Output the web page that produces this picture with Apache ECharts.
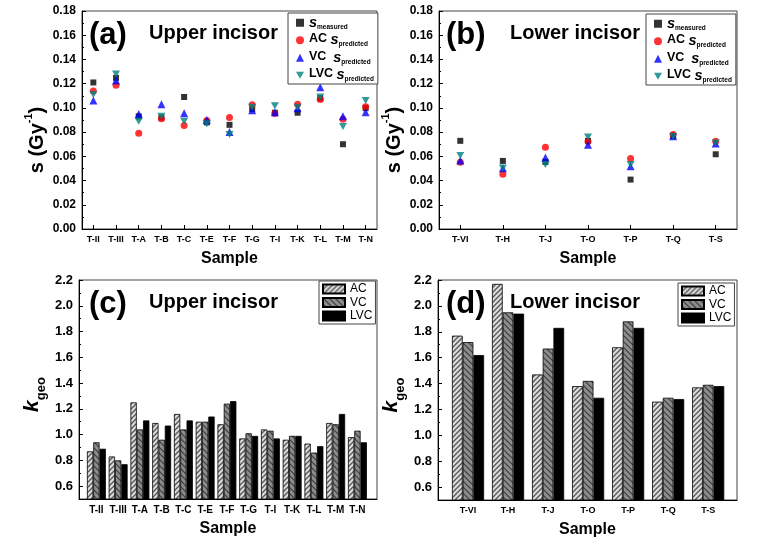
<!DOCTYPE html>
<html><head><meta charset="utf-8">
<script src="https://cdn.jsdelivr.net/npm/echarts@6/dist/echarts.min.js"></script>
<style>html,body{margin:0;padding:0;background:#fff}#c{width:768px;height:552px}</style>
</head><body><div id="c"></div>
<script>
// ---------- data ----------
const upperSamples = ['T-II','T-III','T-A','T-B','T-C','T-E','T-F','T-G','T-I','T-K','T-L','T-M','T-N'];
const lowerSamples = ['T-VI','T-H','T-J','T-O','T-P','T-Q','T-S'];

const upperMeasured = [0.121,0.1248,0.093,0.092,0.109,0.088,0.086,0.099,0.096,0.096,0.108,0.070,0.0998];
const upperAC       = [0.114,0.1187,0.079,0.091,0.0855,0.0896,0.092,0.1025,0.0954,0.103,0.107,0.0907,0.101];
const upperVC       = [0.106,0.1226,0.095,0.103,0.0956,0.090,0.080,0.098,0.0965,0.0998,0.117,0.093,0.0965];
const upperLVC      = [0.111,0.128,0.089,0.093,0.089,0.087,0.078,0.1006,0.1017,0.1006,0.109,0.0846,0.106];

const lowerMeasured = [0.0728,0.0562,0.0554,0.0728,0.0408,0.077,0.0617];
const lowerAC       = [0.0552,0.0452,0.0675,0.0722,0.0582,0.078,0.0725];
const lowerVC       = [0.0565,0.0502,0.059,0.0695,0.0518,0.0766,0.0706];
const lowerLVC      = [0.0606,0.0504,0.0532,0.076,0.0532,0.0764,0.0711];

const upperKAC  = [0.87,0.83,1.25,1.09,1.16,1.10,1.08,0.97,1.04,0.96,0.93,1.09,0.98];
const upperKVC  = [0.94,0.80,1.04,0.96,1.04,1.10,1.24,1.01,1.03,0.99,0.86,1.08,1.03];
const upperKLVC = [0.89,0.77,1.11,1.07,1.11,1.14,1.26,0.99,0.97,0.99,0.91,1.16,0.94];

const lowerKAC  = [1.77,2.17,1.47,1.38,1.68,1.26,1.37];
const lowerKVC  = [1.72,1.95,1.67,1.42,1.88,1.29,1.39];
const lowerKLVC = [1.62,1.94,1.83,1.29,1.83,1.28,1.38];

const kTickLabels = [0.6,0.8,1.0,1.2,1.4,1.6,1.8,2.0,2.2];
const kMinorTicks = [0.7,0.9,1.1,1.3,1.5,1.7,1.9,2.1];

// ---------- styling helpers ----------
const FONT = 'Liberation Sans, Arial, Helvetica, sans-serif';
const DOWN_TRIANGLE = 'path://M0,0 L10,0 L5,9 Z';

function hatch(bg, line, dir, size, lw) {
  const c = document.createElement('canvas');
  c.width = size; c.height = size;
  const ctx = c.getContext('2d');
  ctx.fillStyle = bg; ctx.fillRect(0, 0, size, size);
  ctx.strokeStyle = line; ctx.lineWidth = lw;
  ctx.beginPath();
  if (dir > 0) { // "/"
    ctx.moveTo(-1, size + 1); ctx.lineTo(size + 1, -1);
    ctx.moveTo(-1, 1); ctx.lineTo(1, -1);
    ctx.moveTo(size - 1, size + 1); ctx.lineTo(size + 1, size - 1);
  } else { // "\"
    ctx.moveTo(-1, -1); ctx.lineTo(size + 1, size + 1);
    ctx.moveTo(size - 1, -1); ctx.lineTo(size + 1, 1);
    ctx.moveTo(-1, size - 1); ctx.lineTo(1, size + 1);
  }
  ctx.stroke();
  return { image: c, repeat: 'repeat' };
}
const patAC = hatch('#dcdcdc', '#555555', 1, 5, 1.3);
const patVC = hatch('#8c8c8c', '#3a3a3a', -1, 6, 1.1);

const grids = [
  { left: 82, top: 11, width: 295, height: 218 },
  { left: 439, top: 11, width: 298, height: 218 },
  { left: 79, top: 280, width: 298, height: 219 },
  { left: 438, top: 280, width: 299, height: 220 }
].map(g => Object.assign({ show: true, borderColor: '#444', borderWidth: 1, backgroundColor: 'transparent', outerBoundsMode: 'none', containLabel: false }, g));

const axisLineBlack = { show: true, onZero: false, lineStyle: { color: '#000', width: 1 } };

function catX(gridIndex, data) {
  return {
    type: 'category', gridIndex, data, boundaryGap: true,
    axisLine: axisLineBlack,
    axisTick: { show: true, alignWithLabel: true, inside: true, length: 4, lineStyle: { color: '#000' } },
    axisLabel: { interval: 0, fontSize: 9, fontWeight: 'bold', color: '#000', fontFamily: FONT, margin: 6 },
    splitLine: { show: false },
    name: 'Sample', nameLocation: 'middle', nameGap: 22,
    nameTextStyle: { fontSize: 16, fontWeight: 'bold', color: '#000', fontFamily: FONT }
  };
}
function valX(gridIndex, cats, min, max, fs) {
  const idx = cats.map((_, i) => i);
  return {
    type: 'value', gridIndex, min, max,
    axisLine: axisLineBlack,
    axisTick: { show: true, inside: true, length: 4, customValues: idx, lineStyle: { color: '#000' } },
    axisLabel: { customValues: idx, formatter: v => cats[Math.round(v)], fontSize: fs, fontWeight: 'bold', color: '#000', fontFamily: FONT, margin: 6 },
    splitLine: { show: false },
    name: 'Sample', nameLocation: 'middle', nameGap: 22,
    nameTextStyle: { fontSize: 16, fontWeight: 'bold', color: '#000', fontFamily: FONT }
  };
}
function sY(gridIndex) {
  return {
    type: 'value', gridIndex, min: 0, max: 0.18, interval: 0.02, position: 'left',
    axisLine: axisLineBlack,
    axisTick: { show: true, inside: true, length: 4, lineStyle: { color: '#000' } },
    minorTick: { show: true, splitNumber: 2, length: 2, lineStyle: { color: '#000' } },
    axisLabel: { formatter: v => v.toFixed(2), fontSize: 12, fontWeight: 'bold', color: '#000', fontFamily: FONT, margin: 6 },
    splitLine: { show: false },
    name: '{a|s (Gy}{sup|-1}{a|)}', nameLocation: 'middle', nameGap: 35,
    nameTextStyle: {
      padding: [0, 40, 0, 0],
      rich: {
        a: { fontSize: 20, fontWeight: 'bold', color: '#000', fontFamily: FONT, lineHeight: 24, verticalAlign: 'bottom' },
        sup: { fontSize: 11, fontWeight: 'bold', color: '#000', fontFamily: FONT, lineHeight: 24, verticalAlign: 'top' }
      }
    }
  };
}
function kY(gridIndex, fs, gap, pad) {
  return {
    type: 'value', gridIndex, min: 0.5, max: 2.2, position: 'left',
    axisLine: axisLineBlack,
    axisTick: { show: true, inside: true, length: 4, customValues: kTickLabels, lineStyle: { color: '#000' } },
    axisLabel: { customValues: kTickLabels, formatter: v => v.toFixed(1), fontSize: fs, fontWeight: 'bold', color: '#000', fontFamily: FONT, margin: 6 },
    splitLine: { show: false },
    name: '{k|k}{g|geo}', nameLocation: 'middle', nameGap: gap,
    nameTextStyle: {
      padding: [0, pad, 0, 0],
      rich: {
        k: { fontSize: 21, fontWeight: 'bold', fontStyle: 'italic', color: '#000', fontFamily: FONT, lineHeight: 26, verticalAlign: 'top' },
        g: { fontSize: 13, fontWeight: 'bold', color: '#000', fontFamily: FONT, lineHeight: 26, verticalAlign: 'bottom' }
      }
    }
  };
}
function kYMinor(gridIndex) {
  return {
    type: 'value', gridIndex, min: 0.5, max: 2.2, position: 'left',
    axisLine: { show: false, onZero: false },
    axisTick: { show: true, inside: true, length: 2, customValues: kMinorTicks, lineStyle: { color: '#000' } },
    axisLabel: { show: false },
    splitLine: { show: false }
  };
}

const sNames = ['meas', 'AC s', 'VC s', 'LVC s'];
const sLegendText = {
  'meas': '{s|s}{sub|measured}',
  'AC s': '{b|AC }{s|s}{sub|predicted}',
  'VC s': '{b|VC  }{s|s}{sub|predicted}',
  'LVC s': '{b|LVC }{s|s}{sub|predicted}'
};
const sRich = {
  s: { fontSize: 14.5, fontWeight: 'bold', fontStyle: 'italic', color: '#000', fontFamily: FONT, lineHeight: 15.5, verticalAlign: 'top' },
  sub: { fontSize: 6.5, fontWeight: 'bold', color: '#000', fontFamily: FONT, lineHeight: 15.5, verticalAlign: 'bottom' },
  b: { fontSize: 12.5, fontWeight: 'bold', color: '#000', fontFamily: FONT, lineHeight: 15.5, verticalAlign: 'top' }
};
function sLegend(left, top) {
  return {
    data: sNames, orient: 'vertical', left, top,
    itemWidth: 8, itemHeight: 8, itemGap: 2, padding: [2, 4, 1, 8],
    borderColor: '#444', borderWidth: 1, backgroundColor: '#fff',
    formatter: n => sLegendText[n],
    textStyle: { rich: sRich }, selectedMode: false
  };
}
function kLegend(left, top) {
  return {
    data: ['AC', 'VC', 'LVC'], orient: 'vertical', left, top,
    icon: 'rect', itemWidth: 22, itemHeight: 9, itemGap: 1.5, padding: [2, 3, 2, 3],
    borderColor: '#444', borderWidth: 1, backgroundColor: '#fff',
    textStyle: { fontSize: 12, color: '#000', fontFamily: FONT, lineHeight: 12 }, selectedMode: false
  };
}

function scatterSeries(xi, meas, ac, vc, lvc) {
  return [
    { name: 'meas', type: 'scatter', xAxisIndex: xi, yAxisIndex: xi, data: meas, symbol: 'rect', symbolSize: 6, itemStyle: { color: '#000' } },
    { name: 'AC s', type: 'scatter', xAxisIndex: xi, yAxisIndex: xi, data: ac, symbol: 'circle', symbolSize: 7, itemStyle: { color: '#ff0000' } },
    { name: 'VC s', type: 'scatter', xAxisIndex: xi, yAxisIndex: xi, data: vc, symbol: 'triangle', symbolSize: 8, itemStyle: { color: '#0000ff' } },
    { name: 'LVC s', type: 'scatter', xAxisIndex: xi, yAxisIndex: xi, data: lvc, symbol: DOWN_TRIANGLE, symbolSize: [8, 7], itemStyle: { color: '#008080' } }
  ];
}
function barSeries(xi, yi, ac, vc, lvc, w) {
  const mk = (name, arr, color) => ({
    name, type: 'bar', xAxisIndex: xi, yAxisIndex: yi, barWidth: w, barGap: '0%',
    data: arr.map((v, i) => [i, v]),
    itemStyle: { color, borderColor: '#000', borderWidth: 0.8 }
  });
  return [mk('AC', ac, patAC), mk('VC', vc, patVC), mk('LVC', lvc, '#000')];
}

function ttl(text, left, top, fs) {
  return { text, left, top, padding: 0, textStyle: { fontSize: fs, fontWeight: 'bold', color: '#000', fontFamily: FONT } };
}

const option = {
  animation: false,
  backgroundColor: '#fff',
  grid: grids,
  title: [
    ttl('(a)', 89, 20, 31), ttl('Upper incisor', 149, 23, 20),
    ttl('(b)', 446, 20, 31), ttl('Lower incisor', 510, 23, 20),
    ttl('(c)', 89, 289, 31), ttl('Upper incisor', 149, 292, 20),
    ttl('(d)', 446, 289, 31), ttl('Lower incisor', 510, 292, 20)
  ],
  legend: [
    sLegend(288, 13),
    sLegend(646, 14),
    kLegend(319, 281),
    kLegend(678, 283)
  ],
  xAxis: [
    catX(0, upperSamples),
    catX(1, lowerSamples),
    valX(2, upperSamples, -0.8, 12.9, 10),
    valX(3, lowerSamples, -0.75, 6.72, 9)
  ],
  yAxis: [
    sY(0), sY(1),
    kY(2, 13, 31, 10), kY(3, 13, 31, 10),
    kYMinor(2), kYMinor(3)
  ],
  series: [].concat(
    scatterSeries(0, upperMeasured, upperAC, upperVC, upperLVC),
    scatterSeries(1, lowerMeasured, lowerAC, lowerVC, lowerLVC),
    barSeries(2, 2, upperKAC, upperKVC, upperKLVC, 6.3),
    barSeries(3, 3, lowerKAC, lowerKVC, lowerKLVC, 10.7)
  )
};

const chart = echarts.init(document.getElementById('c'), null, { renderer: 'canvas' });
chart.setOption(option);
</script>
</body></html>
